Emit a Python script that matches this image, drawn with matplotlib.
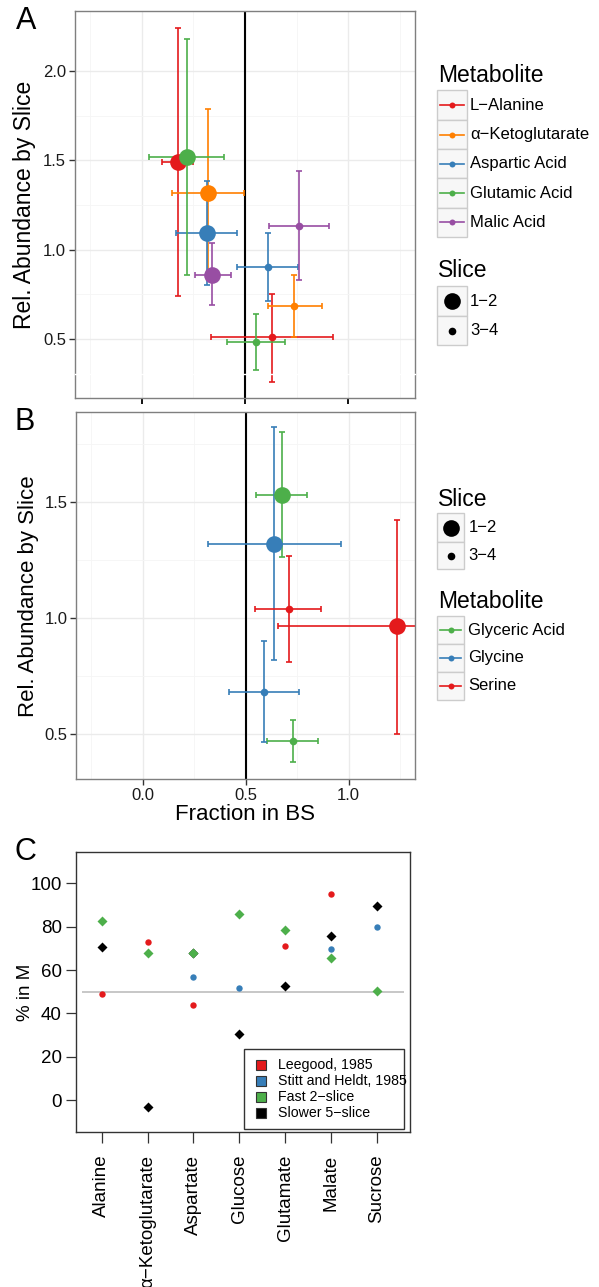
import matplotlib
matplotlib.use("Agg")
import matplotlib.pyplot as plt
from matplotlib.patches import Rectangle
from matplotlib.lines import Line2D

plt.rcParams['font.family'] = ['Liberation Sans', 'DejaVu Sans']

# ---- panel A data: (x, xlo, xhi, y, ylo, yhi) for slice 1-2 and 3-4
met_a = ['L\u2212Alanine', '\u03b1\u2212Ketoglutarate', 'Aspartic Acid', 'Glutamic Acid', 'Malic Acid']
col_a = ['#E41A1C', '#FF7F00', '#377EB8', '#4DAF4A', '#984EA3']
a_x12 = [0.174, 0.319, 0.316, 0.218, 0.342]
a_xlo12 = [0.097, 0.145, 0.166, 0.034, 0.258]
a_xhi12 = [0.250, 0.497, 0.463, 0.397, 0.431]
a_y12 = [1.489, 1.315, 1.093, 1.520, 0.860]
a_ylo12 = [0.740, 0.847, 0.800, 0.856, 0.688]
a_yhi12 = [2.242, 1.786, 1.386, 2.177, 1.037]
a_x34 = [0.629, 0.738, 0.610, 0.552, 0.763]
a_xlo34 = [0.334, 0.610, 0.463, 0.411, 0.617]
a_xhi34 = [0.924, 0.871, 0.755, 0.693, 0.908]
a_y34 = [0.510, 0.685, 0.903, 0.482, 1.134]
a_ylo34 = [0.261, 0.509, 0.711, 0.327, 0.828]
a_yhi34 = [0.754, 0.860, 1.095, 0.638, 1.440]

# ---- panel B data
met_b = ['Glyceric Acid', 'Glycine', 'Serine']
col_b = ['#4DAF4A', '#377EB8', '#E41A1C']
b_x12 = [0.676, 0.639, 1.233]
b_xlo12 = [0.550, 0.316, 0.655]
b_xhi12 = [0.798, 0.964, 1.800]
b_y12 = [1.530, 1.319, 0.964]
b_ylo12 = [1.262, 0.818, 0.503]
b_yhi12 = [1.799, 1.821, 1.423]
b_x34 = [0.728, 0.589, 0.709]
b_xlo34 = [0.605, 0.421, 0.547]
b_xhi34 = [0.853, 0.761, 0.866]
b_y34 = [0.473, 0.683, 1.040]
b_ylo34 = [0.380, 0.466, 0.812]
b_yhi34 = [0.563, 0.903, 1.266]

# ---- panel C data
compounds = ['Alanine', '\u03b1\u2212Ketoglutarate', 'Aspartate', 'Glucose', 'Glutamate', 'Malate', 'Sucrose']
leegood = [48.8, 72.8, 43.8, None, 70.9, 94.9, None]
stitt = [None, None, 56.9, 51.8, None, 69.8, 79.8]
fast2 = [82.6, 67.7, 68.0, 85.8, 78.3, 65.4, 50.2]
slow5 = [70.5, -3.4, 68.0, 30.6, 52.8, 75.7, 89.4]
src_names = ['Leegood, 1985', 'Stitt and Heldt, 1985', 'Fast 2\u2212slice', 'Slower 5\u2212slice']
src_cols = ['#E41A1C', '#377EB8', '#4DAF4A', '#000000']

W, H = 599, 1287
fig = plt.figure(figsize=(W / 100, H / 100), dpi=100)


def px_axes(l, t, r, b):
    return fig.add_axes([l / W, 1 - b / H, (r - l) / W, (b - t) / H])


def gg_style(ax):
    ax.set_facecolor('white')
    for s in ax.spines.values():
        s.set_color('#7F7F7F')
        s.set_linewidth(1.0)
    ax.set_xticks([0.0, 0.5, 1.0])
    ax.set_xticks([-0.25, 0.25, 0.75, 1.25], minor=True)
    ax.grid(True, which='major', color='#EBEBEB', lw=1.0, zorder=0)
    ax.grid(True, which='minor', color='#F5F5F5', lw=0.6, zorder=0)
    ax.set_axisbelow(True)
    ax.tick_params(which='major', length=4.3, width=1.0, color='#333333',
                   labelsize=12, labelcolor='#1a1a1a', pad=2)
    ax.tick_params(which='minor', length=0)
    ax.axvline(0.5, color='black', lw=1.5, zorder=1.5)


def draw_points(ax, cols, xs, xlo, xhi, ys, ylo, yhi, ms):
    for i, c in enumerate(cols):
        ax.errorbar(xs[i], ys[i],
                    xerr=[[xs[i] - xlo[i]], [xhi[i] - xs[i]]],
                    yerr=[[ys[i] - ylo[i]], [yhi[i] - ys[i]]],
                    fmt='none', ecolor=c, elinewidth=1.2, capsize=2, capthick=1.2, zorder=2)
    for i, c in enumerate(cols):
        ax.plot(xs[i], ys[i], 'o', color=c, ms=ms, mec='none', zorder=3)


# ---- panel A
axA = px_axes(75, 11, 415, 398)
gg_style(axA)
axA.set_xlim(-0.323, 1.322)
axA.set_ylim(0.17, 2.336)
axA.set_yticks([0.5, 1.0, 1.5, 2.0])
axA.set_yticks([0.75, 1.25, 1.75], minor=True)
axA.set_yticklabels(['0.5', '1.0', '1.5', '2.0'])
axA.set_xticklabels([])
axA.tick_params(axis='x', which='major', color='black', width=1.3, length=4.5)
draw_points(axA, col_a, a_x12, a_xlo12, a_xhi12, a_y12, a_ylo12, a_yhi12, 12)
draw_points(axA, col_a, a_x34, a_xlo34, a_xhi34, a_y34, a_ylo34, a_yhi34, 5.5)
axA.axhline(0.304, color='white', lw=1.0, zorder=10, clip_on=False)

# ---- panel B
axB = px_axes(76.3, 411.7, 415, 779)
gg_style(axB)
axB.set_xlim(-0.323, 1.322)
axB.set_ylim(0.308, 1.887)
axB.set_yticks([0.5, 1.0, 1.5])
axB.set_yticks([0.75, 1.25, 1.75], minor=True)
axB.set_yticklabels(['0.5', '1.0', '1.5'])
axB.set_xticklabels(['0.0', '0.5', '1.0'])
draw_points(axB, col_b, b_x12, b_xlo12, b_xhi12, b_y12, b_ylo12, b_yhi12, 12)
draw_points(axB, col_b, b_x34, b_xlo34, b_xhi34, b_y34, b_ylo34, b_yhi34, 5.5)

# ---- panel C
axC = px_axes(75.7, 851.7, 410, 1132.3)
xs = list(range(len(compounds)))
axC.hlines(50, -0.436, 6.596, color='#BEBEBE', lw=1.2, zorder=1)
for vals, c, mk, ms in [(leegood, src_cols[0], 'o', 4.6), (stitt, src_cols[1], 'o', 4.6),
                        (slow5, src_cols[3], 'D', 4.6), (fast2, src_cols[2], 'D', 4.6)]:
    px = [x for x, v in zip(xs, vals) if v is not None]
    py = [v for v in vals if v is not None]
    axC.plot(px, py, mk, color=c, ms=ms, mec='none', ls='none', zorder=3)
axC.set_xlim(-0.567, 6.727)
axC.set_ylim(-14.9, 114.6)
axC.set_yticks([0, 20, 40, 60, 80, 100])
axC.set_xticks(xs)
axC.set_xticklabels(compounds, rotation=90, va='top', ha='center')
for s in axC.spines.values():
    s.set_color('#333333')
    s.set_linewidth(1.0)
axC.tick_params(axis='y', length=7, width=0.9, color='#333333', labelsize=13.5, pad=3)
axC.tick_params(axis='x', length=8, width=0.9, color='#333333', labelsize=13.5, pad=8)

# ---- overlay in pixel coordinates for labels and legends
ov = fig.add_axes([0, 0, 1, 1], zorder=20)
ov.set_xlim(0, W)
ov.set_ylim(H, 0)
ov.axis('off')

ov.text(26.5, 21, 'A', fontsize=22, ha='center', va='center')
ov.text(24.5, 422, 'B', fontsize=22, ha='center', va='center')
ov.text(25, 851.5, 'C', fontsize=22, ha='center', va='center')
ov.text(25, 205, 'Rel. Abundance by Slice', fontsize=16.5, rotation=90, ha='center', va='center')
ov.text(29, 596, 'Rel. Abundance by Slice', fontsize=16, rotation=90, ha='center', va='center')
ov.text(245, 815, 'Fraction in BS', fontsize=16, ha='center', va='center')
ov.text(25, 992, '% in M', fontsize=13.5, rotation=90, ha='center', va='center')


def key_box(x0, x1, y0, y1):
    ov.add_patch(Rectangle((x0, y0), x1 - x0, y1 - y0, fc='#F7F7F7', ec='#CCCCCC', lw=1.0))


def met_legend(x0, x1, ytitle, bounds, names, cols, xlab):
    ov.text(x0 + 1, ytitle, 'Metabolite', fontsize=16.5, ha='left', va='center')
    for i, (n, c) in enumerate(zip(names, cols)):
        y0, y1 = bounds[i], bounds[i + 1]
        key_box(x0, x1, y0, y1)
        yc = (y0 + y1) / 2
        ov.add_line(Line2D([x0 + 3, x1 - 3], [yc, yc], color=c, lw=1.2))
        ov.plot((x0 + x1) / 2, yc, 'o', color=c, ms=4.3, mec='none')
        ov.text(xlab, yc, n, fontsize=12, ha='left', va='center')


def slice_legend(x0, x1, ytitle, bounds, xlab):
    ov.text(x0 + 1, ytitle, 'Slice', fontsize=16.5, ha='left', va='center')
    for i, (n, ms) in enumerate(zip(['1\u22122', '3\u22124'], [12, 5.5])):
        y0, y1 = bounds[i], bounds[i + 1]
        key_box(x0, x1, y0, y1)
        yc = (y0 + y1) / 2
        ov.plot((x0 + x1) / 2, yc, 'o', color='black', ms=ms, mec='none')
        ov.text(xlab, yc, n, fontsize=12, ha='left', va='center')


met_legend(437.3, 466.7, 75, [90, 120, 149.3, 178.3, 207.7, 236.7], met_a, col_a, 470)
slice_legend(437.3, 466.7, 270.7, [286, 316, 345], 470)
slice_legend(436.7, 464.3, 500, [513.3, 541.7, 569.3], 468.3)
met_legend(436.7, 464.3, 601.7, [616, 644, 671.7, 699.5], met_b, col_b, 468.3)

# panel C legend
ov.add_patch(Rectangle((244.3, 1049.3), 160, 80, fc='white', ec='#333333', lw=1.0, zorder=5))
for i, (n, c) in enumerate(zip(src_names, src_cols)):
    yc = 1065 + 16 * i
    ov.add_patch(Rectangle((256, yc - 5), 10, 10, fc=c, ec='#333333', lw=0.8, zorder=6))
    ov.text(278.3, yc, n, fontsize=10.2, ha='left', va='center', zorder=6)

fig.savefig('out.png', dpi=100)
